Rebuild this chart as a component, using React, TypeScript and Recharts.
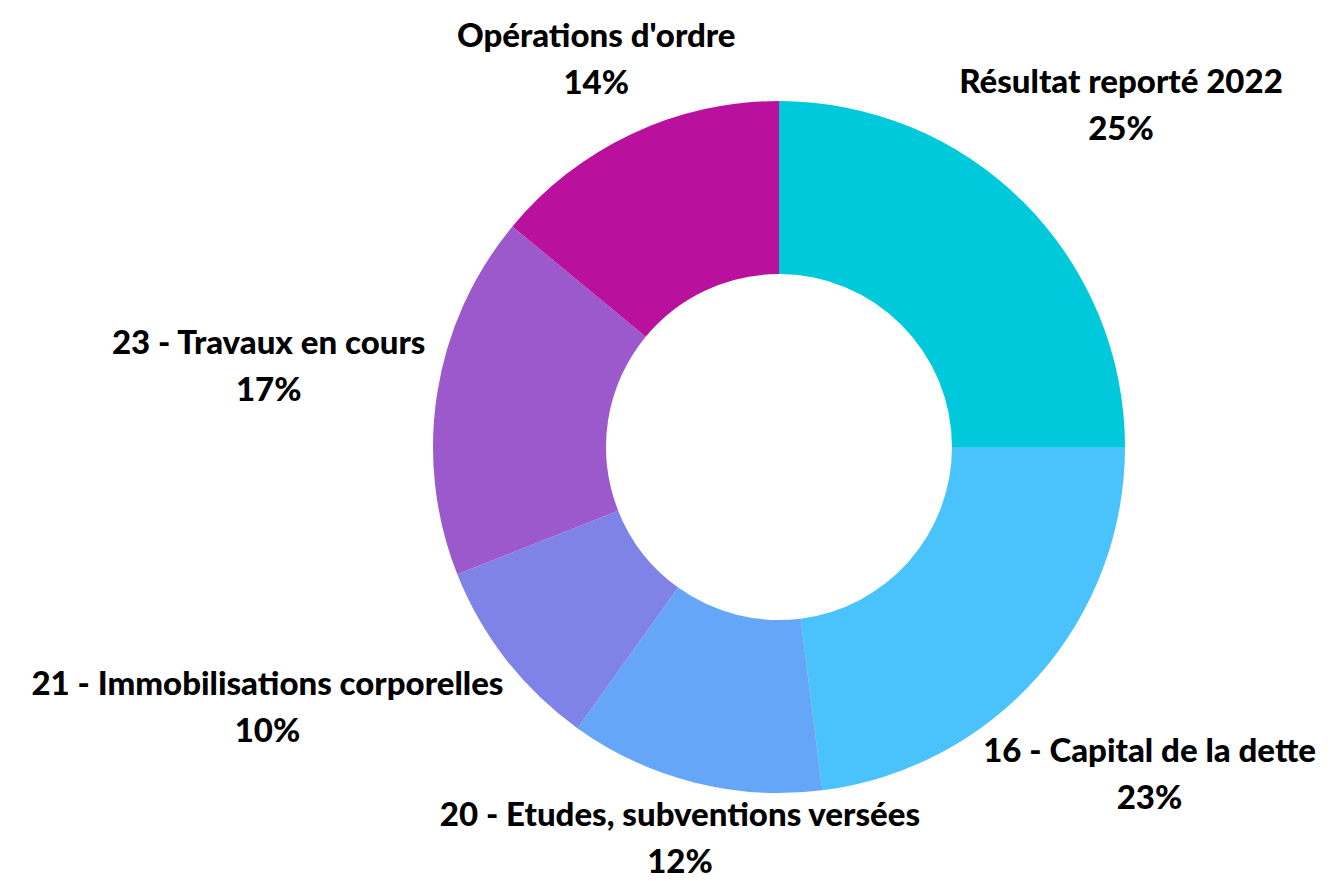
import React from 'react';
import { PieChart, Pie, Cell } from 'recharts';

const categories = [
  'Résultat reporté 2022',
  '16 - Capital de la dette',
  '20 - Etudes, subventions versées',
  '21 - Immobilisations corporelles',
  '23 - Travaux en cours',
  "Opérations d'ordre",
];
const shares = [25, 23, 11.9, 9.1, 17, 14];
const shareLabels = ['25%', '23%', '12%', '10%', '17%', '14%'];

const COLORS = ['#00C9DC', '#4AC3FC', '#66A6F8', '#7F83E8', '#9B59CC', '#B9119E'];

const WIDTH = 1342;
const HEIGHT = 881;
const OUTER = 346;
const INNER = 173;
const LABEL_GAP = 10; // distance between ring and the closest edge of a label box
const FONT_SIZE = 33;
const FONT_FAMILY = 'Lato, "Open Sans", sans-serif';
const FONT_WEIGHT = 900;
const CAP = 23;
const LINE_GAP = 47;

const data = categories.map((name, i) => ({ name, value: shares[i], pct: shareLabels[i] }));

const measure = (() => {
  let ctx: CanvasRenderingContext2D | null = null;
  return (s: string) => {
    if (!ctx) {
      ctx = document.createElement('canvas').getContext('2d');
    }
    if (!ctx) return s.length * FONT_SIZE * 0.55;
    ctx.font = `${FONT_WEIGHT} ${FONT_SIZE}px ${FONT_FAMILY}`;
    return ctx.measureText(s).width;
  };
})();

type Box = { x: number; y: number; hw: number; hh: number };

// put the box on the ray at `angle` so its nearest edge sits just outside the ring
const placeBox = (angle: number, hw: number, hh: number): Box => {
  const dx = Math.cos((angle * Math.PI) / 180);
  const dy = -Math.sin((angle * Math.PI) / 180);
  const target = OUTER + LABEL_GAP;
  let lo = 0;
  let hi = 1200;
  for (let k = 0; k < 50; k++) {
    const t = (lo + hi) / 2;
    const cx = t * dx;
    const cy = t * dy;
    const nx = Math.max(cx - hw, Math.min(0, cx + hw));
    const ny = Math.max(cy - hh, Math.min(0, cy + hh));
    const d = Math.hypot(nx, ny);
    if (d < target) lo = t;
    else hi = t;
  }
  const t = (lo + hi) / 2;
  return { x: t * dx, y: t * dy, hw, hh };
};

const overlaps = (a: Box, b: Box, pad: number) =>
  Math.abs(a.x - b.x) < a.hw + b.hw + pad && Math.abs(a.y - b.y) < a.hh + b.hh + pad;

const layoutLabels = (): Box[] => {
  const total = shares.reduce((s, v) => s + v, 0);
  let acc = 0;
  const boxes: Box[] = [];
  shares.forEach((v, i) => {
    let angle = 90 - ((acc + v / 2) / total) * 360;
    acc += v;
    const hw = Math.max(measure(categories[i]), measure(shareLabels[i])) / 2;
    const hh = (CAP + LINE_GAP) / 2;
    let box = placeBox(angle, hw, hh);
    // nudge further round the ring while it crowds an earlier label
    for (let k = 0; k < 60 && boxes.some((b) => overlaps(b, box, 58)); k++) {
      angle -= 1;
      box = placeBox(angle, hw, hh);
    }
    boxes.push(box);
  });
  return boxes;
};

export default function App() {
  const boxes = React.useMemo(() => layoutLabels(), []);

  const renderLabel = (props: any) => {
    const { cx, cy, index } = props;
    const b = boxes[index];
    if (!b) return null;
    const x = cx + b.x;
    const top = cy + b.y - b.hh;
    return (
      <text
        key={`lbl-${index}`}
        x={x}
        textAnchor="middle"
        fill="#000"
        style={{ fontFamily: FONT_FAMILY, fontWeight: FONT_WEIGHT, fontSize: FONT_SIZE }}
      >
        <tspan x={x} y={top + CAP}>
          {categories[index]}
        </tspan>
        <tspan x={x} y={top + CAP + LINE_GAP}>
          {shareLabels[index]}
        </tspan>
      </text>
    );
  };

  return (
    <div style={{ position: 'absolute', left: 0, top: 0, width: WIDTH, height: HEIGHT, background: '#fff' }}>
      <PieChart width={WIDTH} height={HEIGHT} margin={{ top: 0, right: 0, bottom: 0, left: 0 }}>
        <Pie
          data={data}
          dataKey="value"
          nameKey="name"
          cx={779}
          cy={447}
          innerRadius={INNER}
          outerRadius={OUTER}
          startAngle={90}
          endAngle={-270}
          stroke="none"
          labelLine={false}
          label={renderLabel}
          isAnimationActive={false}
        >
          {data.map((_, index) => (
            <Cell key={`cell-${index}`} fill={COLORS[index % COLORS.length]} />
          ))}
        </Pie>
      </PieChart>
    </div>
  );
}
